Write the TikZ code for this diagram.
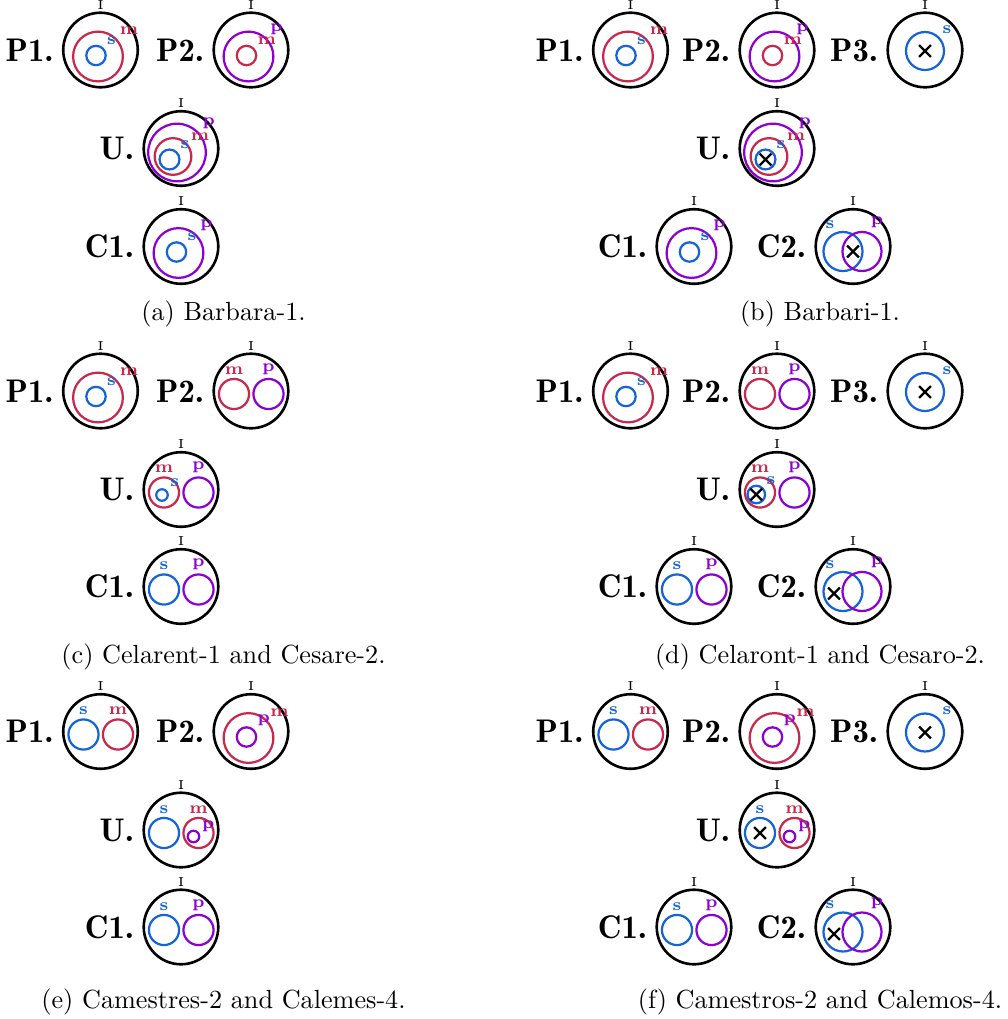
\documentclass[tikz,border=0pt]{standalone}
\usepackage{tikz}
\usepackage{xcolor}
\usetikzlibrary{positioning,calc,shapes.misc}
\definecolor{sblue}{RGB}{20,100,215}
\definecolor{mred}{RGB}{200,40,75}
\definecolor{ppurple}{RGB}{140,0,210}
% universe circle and its tag
\newcommand{\universe}[3]{%
  \node[univ] (#1) at (#2) {};
  \node[tag, left=3pt of #1] (#1tag) {#3};}
% one term inside another
\newcommand{\nested}[5]{%
  \node[termc=#2, minimum size=19pt, label={[lab=#2]45:#3}] (#1#3) at ($(#1)+(-2.5,6.5)$) {};
  \node[termc=#4, minimum size=7.4pt, label={[lab=#4]45:#5}] (#1#5) at ($(#1)+(-4.5,5.5)$) {};}
% s in m in p
\newcommand{\triple}[1]{%
  \node[termc=ppurple, minimum size=22pt, label={[lab=ppurple]42:p}] (#1p) at ($(#1)+(-4,4)$) {};
  \node[termc=mred, minimum size=14pt, label={[lab=mred]42:m}] (#1m) at ($(#1)+(-8,8)$) {};
  \node[termc=sblue, minimum size=7.6pt, label={[lab=sblue]45:s}] (#1s) at ($(#1)+(-11.5,11)$) {};}
% two terms side by side
\newcommand{\disjoint}[5]{%
  \node[termc=#2, minimum size=11.5pt, label={[lab=#2]90:#3}] (#1#3) at ($(#1)+(-17,3)$) {};
  \node[termc=#4, minimum size=11.5pt, label={[lab=#4]90:#5}] (#1#5) at ($(#1)+(17.5,3)$) {};}
% s and p overlapping
\newcommand{\overlap}[1]{%
  \node[termc=sblue, minimum size=14.9pt, label={[lab=sblue]105:s}] (#1s) at ($(#1)+(-10,5)$) {};
  \node[termc=ppurple, minimum size=14.9pt, label={[lab=ppurple]75:p}] (#1p) at ($(#1)+(9,5)$) {};}
% s alone
\newcommand{\single}[1]{%
  \node[termc=sblue, minimum size=14.5pt, label={[lab=sblue]45:s}] (#1s) at ($(#1)+(0,1)$) {};}

\begin{document}
\begin{tikzpicture}[x=0.3817pt, y=-0.3817pt,
  univ/.style={circle, draw=black, line width=1pt, minimum size=1cm, inner sep=0pt, label={[ilab]90:I}},
  ilab/.style={font=\tiny, inner sep=0.6pt},
  tag/.style={font=\fontsize{12.5}{14}\fontseries{b}\selectfont, inner sep=0pt},
  termc/.style={circle, draw=#1, line width=0.85pt, inner sep=0pt},
  lab/.style={text=#1, font=\fontsize{6.5}{7}\bfseries, inner sep=1.1pt},
  xmark/.style={cross out, draw=black, line width=0.9pt, minimum size=3.6pt, inner sep=0pt},
  caption/.style={font=\normalsize, anchor=base}]
\useasboundingbox (0,0) rectangle (1008,1019);
% (a) Barbara-1
\universe{aP1}{100.5,50}{P1.} \nested{aP1}{mred}{m}{sblue}{s}
\universe{aP2}{251,50}{P2.} \nested{aP2}{ppurple}{p}{mred}{m}
\universe{aU}{181,148.5}{U.} \triple{aU}
\universe{aC1}{181,246.5}{C1.} \nested{aC1}{ppurple}{p}{sblue}{s}
\node[caption] (capa) at (223.5,320) {(a) Barbara-1.};
% (b) Barbari-1
\universe{bP1}{630.5,50}{P1.} \nested{bP1}{mred}{m}{sblue}{s}
\universe{bP2}{777,50}{P2.} \nested{bP2}{ppurple}{p}{mred}{m}
\universe{bP3}{925,50}{P3.} \single{bP3}
\node[xmark] (bP3x) at (bP3s) {};
\universe{bU}{777,148.5}{U.} \triple{bU}
\node[xmark] (bUx) at (bUs) {};
\universe{bC1}{694,246.5}{C1.} \nested{bC1}{ppurple}{p}{sblue}{s}
\universe{bC2}{853,246.5}{C2.} \overlap{bC2}
\node[xmark] (bC2x) at ($(bC2)+(0,5)$) {};
\node[caption] (capb) at (820,320) {(b) Barbari-1.};
% (c) Celarent-1 and Cesare-2
\universe{cP1}{100.5,391}{P1.} \nested{cP1}{mred}{m}{sblue}{s}
\universe{cP2}{251,391}{P2.} \disjoint{cP2}{mred}{m}{ppurple}{p}
\universe{cU}{181,489.5}{U.} \disjoint{cU}{mred}{m}{ppurple}{p}
\node[termc=sblue, minimum size=4.4pt, label={[lab=sblue]45:s}] (cUs) at ($(cUm)+(-2,2.5)$) {};
\universe{cC1}{181,586.5}{C1.} \disjoint{cC1}{sblue}{s}{ppurple}{p}
\node[caption] (capc) at (223.5,663) {(c) Celarent-1 and Cesare-2.};
% (d) Celaront-1 and Cesaro-2
\universe{dP1}{630.5,391}{P1.} \nested{dP1}{mred}{m}{sblue}{s}
\universe{dP2}{777,391}{P2.} \disjoint{dP2}{mred}{m}{ppurple}{p}
\universe{dP3}{925,391}{P3.} \single{dP3}
\node[xmark] (dP3x) at (dP3s) {};
\universe{dU}{777,489.5}{U.} \disjoint{dU}{mred}{m}{ppurple}{p}
\node[termc=sblue, minimum size=6.7pt, label={[lab=sblue]45:s}] (dUs) at ($(dUm)+(-3.7,2)$) {};
\node[xmark] (dUx) at (dUs) {};
\universe{dC1}{694,586.5}{C1.} \disjoint{dC1}{sblue}{s}{ppurple}{p}
\universe{dC2}{853,586.5}{C2.} \overlap{dC2}
\node[xmark] (dC2x) at ($(dC2)+(-19,7)$) {};
\node[caption] (capd) at (820,663) {(d) Celaront-1 and Cesaro-2.};
% (e) Camestres-2 and Calemes-4
\universe{eP1}{100.5,731.5}{P1.} \disjoint{eP1}{sblue}{s}{mred}{m}
\universe{eP2}{251,731.5}{P2.} \nested{eP2}{mred}{m}{ppurple}{p}
\universe{eU}{181,830}{U.} \disjoint{eU}{sblue}{s}{mred}{m}
\node[termc=ppurple, minimum size=4.4pt, label={[lab=ppurple, inner sep=0.6pt]20:p}] (eUp) at ($(eUm)+(-5,3.5)$) {};
\universe{eC1}{181,927}{C1.} \disjoint{eC1}{sblue}{s}{ppurple}{p}
\node[caption] (cape) at (223.5,1008) {(e) Camestres-2 and Calemes-4.};
% (f) Camestros-2 and Calemos-4
\universe{fP1}{630.5,731.5}{P1.} \disjoint{fP1}{sblue}{s}{mred}{m}
\universe{fP2}{777,731.5}{P2.} \nested{fP2}{mred}{m}{ppurple}{p}
\universe{fP3}{925,731.5}{P3.} \single{fP3}
\node[xmark] (fP3x) at (fP3s) {};
\universe{fU}{777,830}{U.} \disjoint{fU}{sblue}{s}{mred}{m}
\node[xmark] (fUx) at (fUs) {};
\node[termc=ppurple, minimum size=4.4pt, label={[lab=ppurple, inner sep=0.6pt]20:p}] (fUp) at ($(fUm)+(-5,3.5)$) {};
\universe{fC1}{694,927}{C1.} \disjoint{fC1}{sblue}{s}{ppurple}{p}
\universe{fC2}{853,927}{C2.} \overlap{fC2}
\node[xmark] (fC2x) at ($(fC2)+(-19,7)$) {};
\node[caption] (capf) at (820,1008) {(f) Camestros-2 and Calemos-4.};
\end{tikzpicture}
\end{document}
